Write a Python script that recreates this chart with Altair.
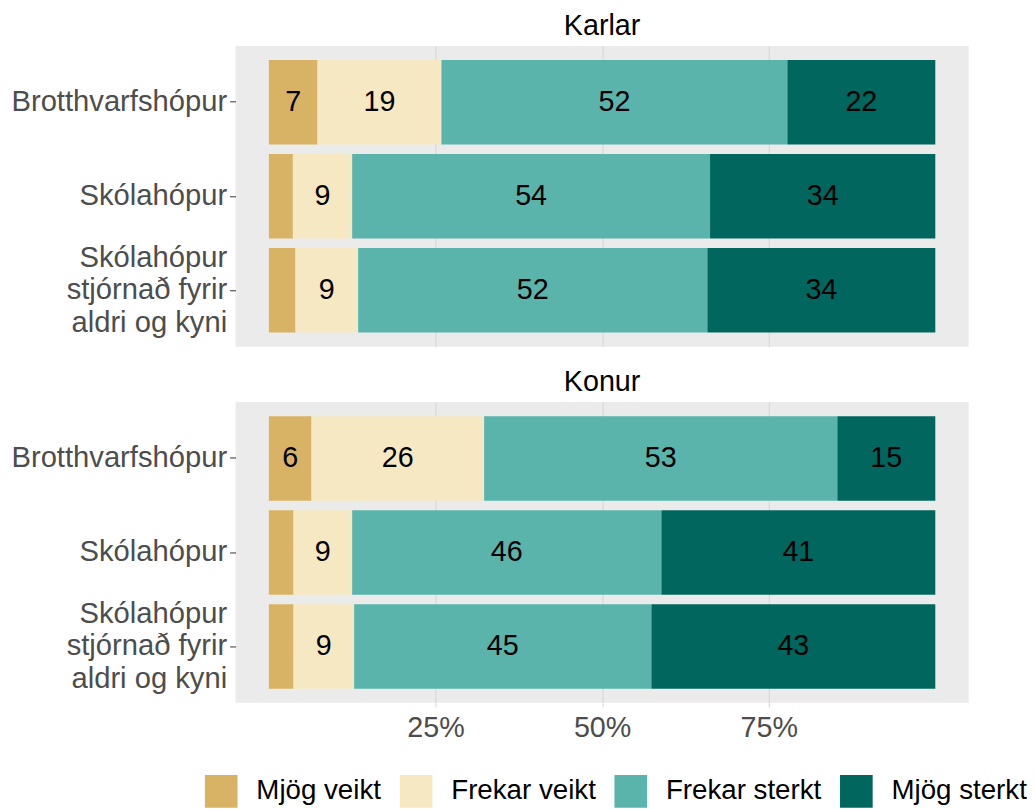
import altair as alt
import pandas as pd

categories = ["Mjög veikt", "Frekar veikt", "Frekar sterkt", "Mjög sterkt"]
colors = ["#D8B365", "#F6E8C3", "#5AB4AC", "#01665E"]
groups = ["Brotthvarfshópur", "Skólahópur", "Skólahópur|stjórnað fyrir|aldri og kyni"]
panels = ["Karlar", "Konur"]

karlar_brotthvarf = [7.3, 18.6, 51.9, 22.2]
karlar_skola = [3.6, 8.9, 53.7, 33.8]
karlar_stjornad = [4.0, 9.4, 52.4, 34.2]
konur_brotthvarf = [6.4, 25.9, 53.0, 14.7]
konur_skola = [3.7, 8.8, 46.4, 41.1]
konur_stjornad = [3.7, 9.1, 44.6, 42.6]

x_ticks = [25, 50, 75]

series = {
    "Karlar": [karlar_brotthvarf, karlar_skola, karlar_stjornad],
    "Konur": [konur_brotthvarf, konur_skola, konur_stjornad],
}

rows = []
for p in panels:
    for g, vals in zip(groups, series[p]):
        for i, (c, v) in enumerate(zip(categories, vals)):
            rows.append({"panel": p, "group": g, "cat": c, "ord": i, "pct": v})
df = pd.DataFrame(rows)

FONT = "Liberation Sans"
FS = 29
W, H = 741, 304


def panel(name, show_x):
    base = alt.Chart(df).transform_filter(
        alt.datum.panel == name
    ).transform_stack(
        stack="pct", as_=["x0", "x1"], groupby=["panel", "group"],
        sort=[alt.SortField("ord", order="ascending")]
    ).transform_calculate(mid="(datum.x0 + datum.x1) / 2", lab="round(datum.pct)")

    xscale = alt.Scale(domain=[-5, 105], nice=False, zero=False)
    if show_x:
        xaxis = alt.Axis(values=x_ticks, labelExpr="datum.value + '%'", title=None,
                         grid=True, gridColor="#D4D4D4", gridWidth=1, domain=False,
                         ticks=True, tickColor="#D4D4D4", tickSize=4,
                         labelFontSize=FS, labelColor="#4D4D4D", labelFont=FONT,
                         labelPadding=7)
    else:
        xaxis = alt.Axis(values=x_ticks, labels=False, ticks=False, title=None,
                         grid=True, gridColor="#D4D4D4", gridWidth=1, domain=False)
    yscale = alt.Scale(domain=groups, paddingInner=0.1, paddingOuter=0.15)
    yaxis = alt.Axis(title=None, labelExpr="split(datum.label, '|')",
                     labelFontSize=29.5, labelColor="#4D4D4D", labelFont=FONT,
                     labelLineHeight=33, domain=False, ticks=True, tickColor="#333333",
                     tickSize=6, labelPadding=3, labelLimit=400, grid=False,
                     labelOffset={"condition": {"test": "indexof(datum.value, '|') >= 0",
                                                "value": -33}, "value": 0})

    bars = base.mark_bar().encode(
        x=alt.X("x0:Q", scale=xscale, axis=xaxis),
        x2="x1:Q",
        y=alt.Y("group:N", scale=yscale, axis=yaxis, sort=groups),
        color=alt.Color("cat:N", scale=alt.Scale(domain=categories, range=colors),
                        legend=alt.Legend(title=None, orient="none", direction="horizontal",
                                          legendX=-31, legendY=737, symbolType="square",
                                          symbolSize=1089, symbolStrokeWidth=0,
                                          labelFontSize=28, labelFont=FONT, labelColor="#000000",
                                          labelOffset=19, columnPadding=18, padding=0)),
        order=alt.Order("ord:Q"),
    )
    text = base.transform_filter(alt.datum.pct >= 5).mark_text(
        fontSize=FS, font=FONT, color="#000000", baseline="middle", align="center"
    ).encode(
        x=alt.X("mid:Q", scale=xscale),
        y=alt.Y("group:N", scale=yscale, sort=groups),
        text=alt.Text("lab:Q"),
    )
    return alt.layer(bars, text).properties(
        width=W, height=H,
        title=alt.TitleParams(name, fontSize=FS, font=FONT, fontWeight="normal",
                              color="#000000", anchor="middle", offset=5),
    )


chart = alt.vconcat(panel("Karlar", False), panel("Konur", True), spacing=22).properties(
    padding={"left": 2, "top": 0, "right": 0, "bottom": 0}
).configure(font=FONT).configure_view(fill="#EBEBEB", stroke=None)

chart.save("out.html", embed_options={"renderer": "svg", "actions": False})
